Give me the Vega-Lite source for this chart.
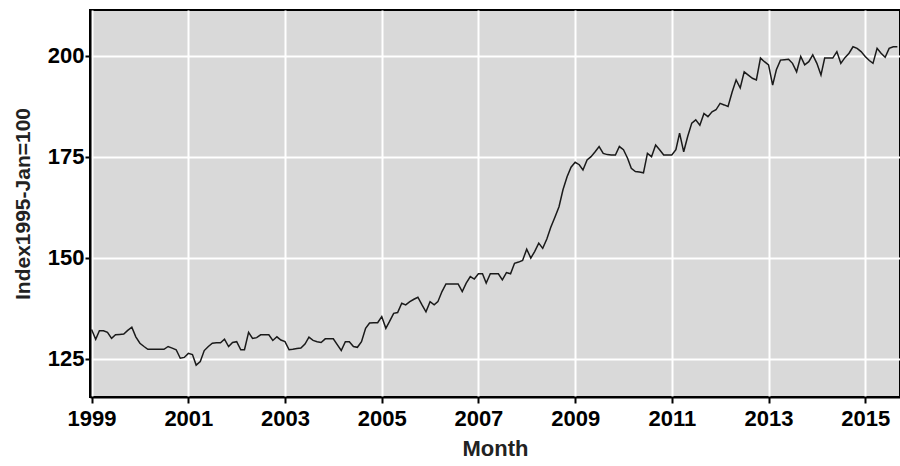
{
  "$schema": "https://vega.github.io/schema/vega-lite/v6.json",
  "width": 810,
  "height": 387,
  "autosize": {"type": "none"},
  "padding": {"left": 90, "top": 10, "right": 0, "bottom": 69},
  "background": "#ffffff",
  "config": {
    "view": {"fill": "#d9d9d9", "stroke": "#000000", "strokeWidth": 2},
    "font": "Liberation Sans, Arial, sans-serif"
  },
  "data": {
    "values": [
      {"month": "1999-01-01", "value": 132.2}, {"month": "1999-02-01", "value": 129.8}, {"month": "1999-03-01", "value": 131.9}, {"month": "1999-04-01", "value": 131.9}, {"month": "1999-05-01", "value": 131.5}, {"month": "1999-06-01", "value": 130.0}, {"month": "1999-07-01", "value": 130.9}, {"month": "1999-08-01", "value": 131.0}, {"month": "1999-09-01", "value": 131.1}, {"month": "1999-10-01", "value": 132.0}, {"month": "1999-11-01", "value": 132.8}, {"month": "1999-12-01", "value": 130.4},
      {"month": "2000-01-01", "value": 128.8}, {"month": "2000-02-01", "value": 128.0}, {"month": "2000-03-01", "value": 127.3}, {"month": "2000-04-01", "value": 127.3}, {"month": "2000-05-01", "value": 127.3}, {"month": "2000-06-01", "value": 127.3}, {"month": "2000-07-01", "value": 127.3}, {"month": "2000-08-01", "value": 128.0}, {"month": "2000-09-01", "value": 127.6}, {"month": "2000-10-01", "value": 127.2}, {"month": "2000-11-01", "value": 125.1}, {"month": "2000-12-01", "value": 125.3},
      {"month": "2001-01-01", "value": 126.3}, {"month": "2001-02-01", "value": 126.0}, {"month": "2001-03-01", "value": 123.4}, {"month": "2001-04-01", "value": 124.3}, {"month": "2001-05-01", "value": 127.0}, {"month": "2001-06-01", "value": 128.0}, {"month": "2001-07-01", "value": 128.8}, {"month": "2001-08-01", "value": 128.9}, {"month": "2001-09-01", "value": 128.9}, {"month": "2001-10-01", "value": 129.8}, {"month": "2001-11-01", "value": 128.0}, {"month": "2001-12-01", "value": 129.0},
      {"month": "2002-01-01", "value": 129.2}, {"month": "2002-02-01", "value": 127.2}, {"month": "2002-03-01", "value": 127.2}, {"month": "2002-04-01", "value": 131.5}, {"month": "2002-05-01", "value": 130.0}, {"month": "2002-06-01", "value": 130.2}, {"month": "2002-07-01", "value": 130.9}, {"month": "2002-08-01", "value": 130.9}, {"month": "2002-09-01", "value": 130.9}, {"month": "2002-10-01", "value": 129.5}, {"month": "2002-11-01", "value": 130.4}, {"month": "2002-12-01", "value": 129.6},
      {"month": "2003-01-01", "value": 129.2}, {"month": "2003-02-01", "value": 127.2}, {"month": "2003-03-01", "value": 127.3}, {"month": "2003-04-01", "value": 127.5}, {"month": "2003-05-01", "value": 127.6}, {"month": "2003-06-01", "value": 128.6}, {"month": "2003-07-01", "value": 130.3}, {"month": "2003-08-01", "value": 129.5}, {"month": "2003-09-01", "value": 129.2}, {"month": "2003-10-01", "value": 129.0}, {"month": "2003-11-01", "value": 129.9}, {"month": "2003-12-01", "value": 129.9},
      {"month": "2004-01-01", "value": 129.9}, {"month": "2004-02-01", "value": 128.4}, {"month": "2004-03-01", "value": 127.0}, {"month": "2004-04-01", "value": 129.2}, {"month": "2004-05-01", "value": 129.2}, {"month": "2004-06-01", "value": 128.0}, {"month": "2004-07-01", "value": 127.8}, {"month": "2004-08-01", "value": 129.2}, {"month": "2004-09-01", "value": 132.5}, {"month": "2004-10-01", "value": 133.8}, {"month": "2004-11-01", "value": 133.9}, {"month": "2004-12-01", "value": 133.9},
      {"month": "2005-01-01", "value": 135.4}, {"month": "2005-02-01", "value": 132.5}, {"month": "2005-03-01", "value": 134.2}, {"month": "2005-04-01", "value": 136.2}, {"month": "2005-05-01", "value": 136.4}, {"month": "2005-06-01", "value": 138.7}, {"month": "2005-07-01", "value": 138.3}, {"month": "2005-08-01", "value": 139.1}, {"month": "2005-09-01", "value": 139.7}, {"month": "2005-10-01", "value": 140.2}, {"month": "2005-11-01", "value": 138.3}, {"month": "2005-12-01", "value": 136.6},
      {"month": "2006-01-01", "value": 139.1}, {"month": "2006-02-01", "value": 138.3}, {"month": "2006-03-01", "value": 139.1}, {"month": "2006-04-01", "value": 141.6}, {"month": "2006-05-01", "value": 143.5}, {"month": "2006-06-01", "value": 143.5}, {"month": "2006-07-01", "value": 143.5}, {"month": "2006-08-01", "value": 143.5}, {"month": "2006-09-01", "value": 141.6}, {"month": "2006-10-01", "value": 143.7}, {"month": "2006-11-01", "value": 145.3}, {"month": "2006-12-01", "value": 144.7},
      {"month": "2007-01-01", "value": 146.0}, {"month": "2007-02-01", "value": 146.0}, {"month": "2007-03-01", "value": 143.7}, {"month": "2007-04-01", "value": 146.0}, {"month": "2007-05-01", "value": 146.0}, {"month": "2007-06-01", "value": 146.0}, {"month": "2007-07-01", "value": 144.5}, {"month": "2007-08-01", "value": 146.3}, {"month": "2007-09-01", "value": 146.0}, {"month": "2007-10-01", "value": 148.6}, {"month": "2007-11-01", "value": 148.9}, {"month": "2007-12-01", "value": 149.3},
      {"month": "2008-01-01", "value": 152.1}, {"month": "2008-02-01", "value": 149.9}, {"month": "2008-03-01", "value": 151.5}, {"month": "2008-04-01", "value": 153.6}, {"month": "2008-05-01", "value": 152.3}, {"month": "2008-06-01", "value": 154.6}, {"month": "2008-07-01", "value": 157.5}, {"month": "2008-08-01", "value": 160.0}, {"month": "2008-09-01", "value": 162.6}, {"month": "2008-10-01", "value": 166.8}, {"month": "2008-11-01", "value": 170.0}, {"month": "2008-12-01", "value": 172.4},
      {"month": "2009-01-01", "value": 173.6}, {"month": "2009-02-01", "value": 173.0}, {"month": "2009-03-01", "value": 171.7}, {"month": "2009-04-01", "value": 174.2}, {"month": "2009-05-01", "value": 175.0}, {"month": "2009-06-01", "value": 176.2}, {"month": "2009-07-01", "value": 177.5}, {"month": "2009-08-01", "value": 175.8}, {"month": "2009-09-01", "value": 175.5}, {"month": "2009-10-01", "value": 175.4}, {"month": "2009-11-01", "value": 175.4}, {"month": "2009-12-01", "value": 177.5},
      {"month": "2010-01-01", "value": 176.7}, {"month": "2010-02-01", "value": 174.6}, {"month": "2010-03-01", "value": 172.1}, {"month": "2010-04-01", "value": 171.3}, {"month": "2010-05-01", "value": 171.2}, {"month": "2010-06-01", "value": 171.0}, {"month": "2010-07-01", "value": 175.8}, {"month": "2010-08-01", "value": 175.0}, {"month": "2010-09-01", "value": 177.9}, {"month": "2010-10-01", "value": 176.7}, {"month": "2010-11-01", "value": 175.4}, {"month": "2010-12-01", "value": 175.4},
      {"month": "2011-01-01", "value": 175.4}, {"month": "2011-02-01", "value": 176.7}, {"month": "2011-03-01", "value": 180.8}, {"month": "2011-04-01", "value": 176.2}, {"month": "2011-05-01", "value": 180.0}, {"month": "2011-06-01", "value": 183.3}, {"month": "2011-07-01", "value": 184.1}, {"month": "2011-08-01", "value": 182.8}, {"month": "2011-09-01", "value": 185.7}, {"month": "2011-10-01", "value": 184.9}, {"month": "2011-11-01", "value": 186.1}, {"month": "2011-12-01", "value": 186.6},
      {"month": "2012-01-01", "value": 188.2}, {"month": "2012-02-01", "value": 187.8}, {"month": "2012-03-01", "value": 187.4}, {"month": "2012-04-01", "value": 191.0}, {"month": "2012-05-01", "value": 194.0}, {"month": "2012-06-01", "value": 192.0}, {"month": "2012-07-01", "value": 196.0}, {"month": "2012-08-01", "value": 195.2}, {"month": "2012-09-01", "value": 194.4}, {"month": "2012-10-01", "value": 194.0}, {"month": "2012-11-01", "value": 199.4}, {"month": "2012-12-01", "value": 198.5},
      {"month": "2013-01-01", "value": 197.7}, {"month": "2013-02-01", "value": 192.7}, {"month": "2013-03-01", "value": 196.5}, {"month": "2013-04-01", "value": 198.9}, {"month": "2013-05-01", "value": 199.0}, {"month": "2013-06-01", "value": 199.1}, {"month": "2013-07-01", "value": 198.1}, {"month": "2013-08-01", "value": 196.0}, {"month": "2013-09-01", "value": 199.8}, {"month": "2013-10-01", "value": 197.7}, {"month": "2013-11-01", "value": 198.5}, {"month": "2013-12-01", "value": 200.2},
      {"month": "2014-01-01", "value": 198.1}, {"month": "2014-02-01", "value": 195.2}, {"month": "2014-03-01", "value": 199.4}, {"month": "2014-04-01", "value": 199.4}, {"month": "2014-05-01", "value": 199.4}, {"month": "2014-06-01", "value": 201.0}, {"month": "2014-07-01", "value": 198.1}, {"month": "2014-08-01", "value": 199.5}, {"month": "2014-09-01", "value": 200.6}, {"month": "2014-10-01", "value": 202.2}, {"month": "2014-11-01", "value": 201.8}, {"month": "2014-12-01", "value": 201.0},
      {"month": "2015-01-01", "value": 199.8}, {"month": "2015-02-01", "value": 198.8}, {"month": "2015-03-01", "value": 198.1}, {"month": "2015-04-01", "value": 201.8}, {"month": "2015-05-01", "value": 200.6}, {"month": "2015-06-01", "value": 199.6}, {"month": "2015-07-01", "value": 201.8}, {"month": "2015-08-01", "value": 202.2}, {"month": "2015-09-01", "value": 202.2}
    ]
  },
  "mark": {"type": "line", "color": "#1a1a1a", "strokeWidth": 1.5, "clip": true},
  "encoding": {
    "x": {
      "field": "month",
      "type": "temporal",
      "scale": {"domain": [{"year": 1998, "month": 12, "date": 20}, {"year": 2015, "month": 9, "date": 21}]},
      "axis": {
        "title": "Month",
        "values": [{"year": 1999}, {"year": 2001}, {"year": 2003}, {"year": 2005}, {"year": 2007}, {"year": 2009}, {"year": 2011}, {"year": 2013}, {"year": 2015}],
        "format": "%Y",
        "grid": true, "gridColor": "#ffffff", "gridWidth": 2, "gridOpacity": 1,
        "domainColor": "#000000", "domainWidth": 2,
        "tickColor": "#000000", "tickWidth": 2, "tickSize": 6,
        "labelFont": "Liberation Sans, Arial, sans-serif", "labelFontWeight": "bold", "labelFontSize": 22, "labelColor": "#000000", "labelPadding": 5,
        "labelFlush": false, "labelOverlap": false,
        "titleFont": "Liberation Sans, Arial, sans-serif", "titleFontWeight": "bold", "titleFontSize": 22, "titleColor": "#222222", "titlePadding": 9
      }
    },
    "y": {
      "field": "value",
      "type": "quantitative",
      "scale": {"domain": [115.5, 211.3], "nice": false, "zero": false},
      "axis": {
        "title": "Index1995-Jan=100",
        "values": [125, 150, 175, 200],
        "grid": true, "gridColor": "#ffffff", "gridWidth": 2, "gridOpacity": 1,
        "domainColor": "#000000", "domainWidth": 2,
        "tickColor": "#000000", "tickWidth": 2, "tickSize": 5,
        "labelFont": "Liberation Sans, Arial, sans-serif", "labelFontWeight": "bold", "labelFontSize": 22, "labelColor": "#000000", "labelPadding": 1,
        "labelFlush": false, "labelOverlap": false,
        "titleFont": "Liberation Sans, Arial, sans-serif", "titleFontWeight": "bold", "titleFontSize": 21, "titleColor": "#222222", "titlePadding": 14
      }
    }
  }
}
